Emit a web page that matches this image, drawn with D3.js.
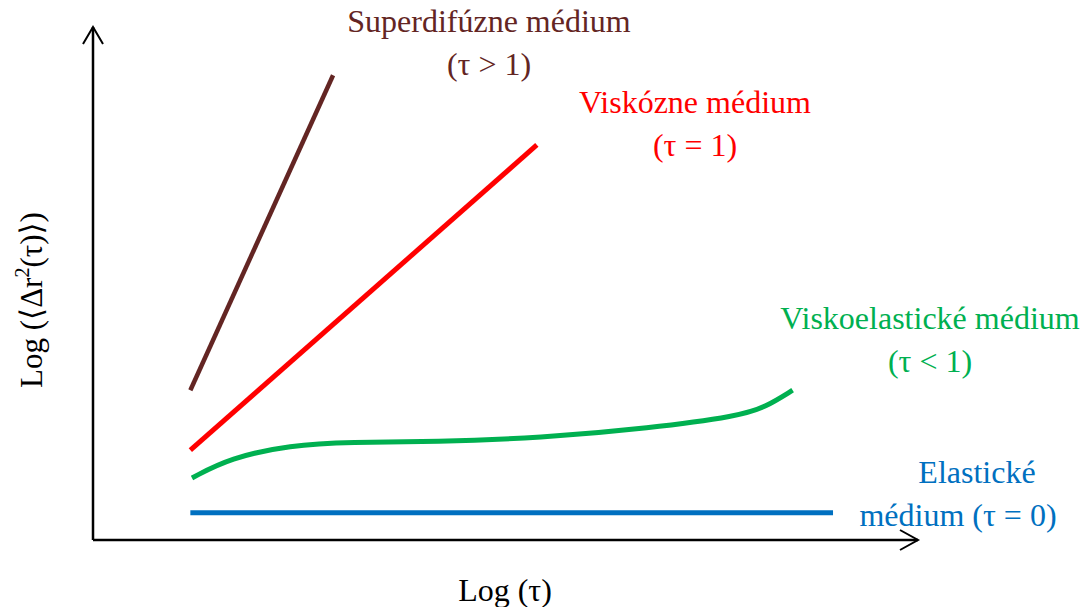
<!DOCTYPE html>
<html>
<head>
<meta charset="utf-8">
<script src="https://cdn.jsdelivr.net/npm/d3@7"></script>
<style>
  body { margin: 0; background: #fff; }
  svg { display: block; }
</style>
</head>
<body>
<svg width="1088" height="607"></svg>
<script>
// values in arbitrary log units (0-100 on both axes)
const superdiffusive = [[11.8, 29.2], [29.1, 90.6]];
const viscous = [[11.8, 17.5], [53.8, 77.0]];
const viscoelastic = [
  [12.0, 12.1], [16.6, 16.0], [23.9, 18.5], [31.2, 19.1], [41.5, 19.1],
  [54.2, 19.9], [67.5, 21.8], [78.4, 24.2], [81.5, 25.9], [84.8, 29.2]
];
const elastic = [[11.8, 5.3], [89.7, 5.3]];

const series = [
  {name: "superdiffusive", points: superdiffusive, color: "#632523", width: 4.5},
  {name: "viscous", points: viscous, color: "#ff0000", width: 5},
  {name: "viscoelastic", points: viscoelastic, color: "#00b050", width: 5},
  {name: "elastic", points: elastic, color: "#0070c0", width: 5}
];

const labels = [
  {lines: ["Superdifúzne médium", "(τ > 1)"], x: 489, y: 32, color: "#632523"},
  {lines: ["Viskózne médium", "(τ = 1)"], x: 695, y: 113, color: "#ff0000"},
  {lines: ["Viskoelastické médium", "(τ < 1)"], x: 930, y: 329, color: "#00b050"},
  {lines: ["Elastické", "médium (τ = 0)"], x: 977, y: 483, color: "#0070c0", dx: [0, -19]}
];

const FONT = "'Liberation Serif', 'DejaVu Serif', serif";

const svg = d3.select("svg");

const x = d3.scaleLinear().domain([0, 100]).range([93, 918]);
const y = d3.scaleLinear().domain([0, 100]).range([540, 27]);

// axes with open arrow heads
const axisG = svg.append("g")
  .attr("fill", "none")
  .attr("stroke", "#000")
  .attr("stroke-width", 2.5);

axisG.append("path")
  .attr("d", `M${x(0)},${y(0)}H${x(100)}`);
axisG.append("path")
  .attr("d", `M${x(0)},${y(0)}V${y(100)}`);
axisG.append("path")
  .attr("stroke-width", 2)
  .attr("d", `M${x(100) - 18},${y(0) - 10}L${x(100)},${y(0)}L${x(100) - 18},${y(0) + 10}`);
axisG.append("path")
  .attr("stroke-width", 2)
  .attr("d", `M${x(0) - 10},${y(100) + 17}L${x(0)},${y(100)}L${x(0) + 10},${y(100) + 17}`);

const line = d3.line()
  .x(d => x(d[0]))
  .y(d => y(d[1]))
  .curve(d3.curveBasis);

svg.append("g")
  .selectAll("path")
  .data(series)
  .enter().append("path")
    .attr("d", d => line(d.points))
    .attr("fill", "none")
    .attr("stroke", d => d.color)
    .attr("stroke-width", d => d.width);

// series labels
labels.forEach(l => {
  const t = svg.append("text")
    .attr("text-anchor", "middle")
    .attr("font-family", FONT)
    .attr("font-size", 32)
    .attr("fill", l.color);
  l.lines.forEach((s, i) => {
    t.append("tspan")
      .attr("x", l.x + (l.dx ? l.dx[i] : 0))
      .attr("y", l.y + i * 43)
      .text(s);
  });
});

// axis titles
svg.append("text")
  .attr("x", 505)
  .attr("y", 601)
  .attr("text-anchor", "middle")
  .attr("font-family", FONT)
  .attr("font-size", 32)
  .text("Log (τ)");

const yt = svg.append("text")
  .attr("transform", "translate(42,300) rotate(-90)")
  .attr("text-anchor", "middle")
  .attr("font-family", FONT)
  .attr("font-size", 31);
yt.append("tspan").text("Log (⟨Δr");
yt.append("tspan").attr("font-size", 20).attr("dy", -13).text("2");
yt.append("tspan").attr("dy", 13).text("(τ)⟩)");
</script>
</body>
</html>
